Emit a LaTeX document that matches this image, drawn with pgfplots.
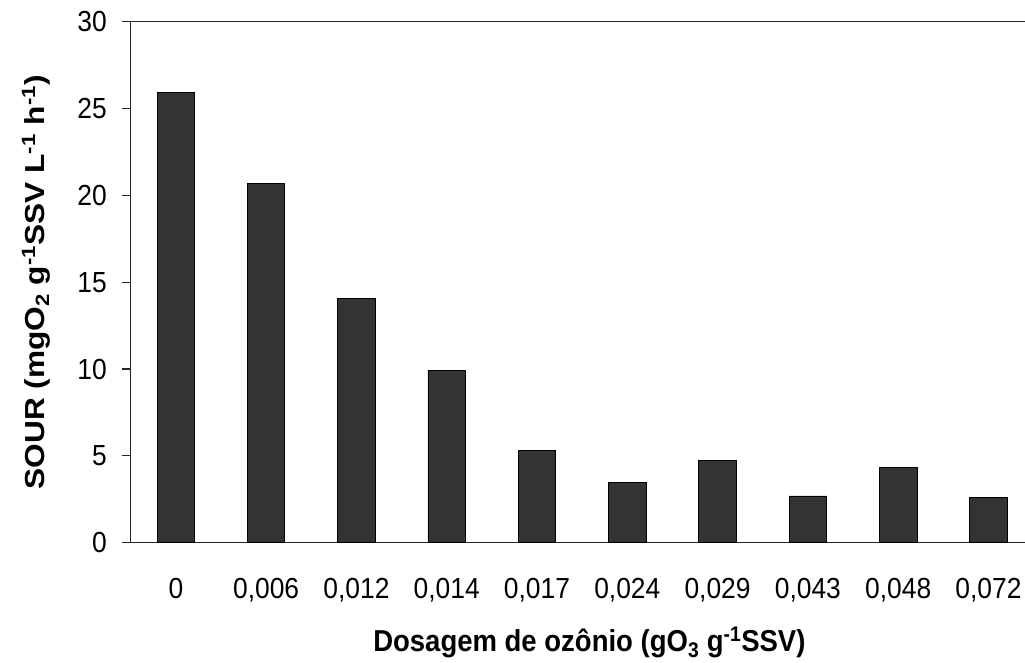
\documentclass[border=0pt]{standalone}
\usepackage{fontspec}
\setmainfont{Liberation Sans}
\usepackage{pgfplots}
\pgfplotsset{compat=1.18}
\definecolor{barfill}{HTML}{333333}
\newcommand{\vs}[1]{\scalebox{1}[1.1]{#1}}
\begin{document}
\fontsize{26}{30}\selectfont
\begin{tikzpicture}
\useasboundingbox (-130.7pt,-120.3pt) rectangle (894.3pt,542.7pt);
\begin{axis}[
  at={(0pt,0pt)}, anchor=south west,
  scale only axis,
  width=902.9pt, height=521pt,
  xmin=-0.5, xmax=9.5, ymin=0, ymax=30,
  axis lines=left,
  axis line style={-, line width=1.2pt, black!85},
  ytick={0,5,...,30},
  xtick={0,...,9},
  xticklabels={\vs{0},\vs{0,006},\vs{0,012},\vs{0,014},\vs{0,017},\vs{0,024},\vs{0,029},\vs{0,043},\vs{0,048},\vs{0,072}},
  yticklabel={\vs{\pgfmathprintnumber{\tick}}},
  minor xtick={-0.5,0.5,...,8.5},
  xtick style={draw=none},
  minor x tick style={line width=1.2pt, black!85},
  y tick style={line width=1.2pt, black!85},
  tick align=outside,
  major tick length=9pt, minor tick length=9pt,
  /pgf/number format/assume math mode=true,
  tick label style={font=\fontsize{26.4}{30}\selectfont},
  yticklabel style={xshift=-6pt},
  xticklabel style={yshift=-18pt},
  xlabel={\vs{\textbf{Dosagem de ozônio (gO\textsubscript{3} g\textsuperscript{-1}SSV)}}},
  ylabel={\scalebox{1.15}[1]{\textbf{SOUR (mgO\textsubscript{2} g\textsuperscript{-1}SSV L\textsuperscript{-1} h\textsuperscript{-1})}}},
  label style={font=\fontsize{27.5}{32}\selectfont},
  xlabel style={at={(axis description cs:0.508,-0.192)}, anchor=center},
  ylabel style={at={(axis description cs:-0.1049,0.5)}, anchor=center},
  clip=false,
]
\addplot[ybar, bar width=37.5pt, fill=barfill, draw=black, line width=0.8pt]
  coordinates {(0,25.9) (1,20.7) (2,14.07) (3,9.94) (4,5.30) (5,3.48) (6,4.72) (7,2.69) (8,4.34) (9,2.61)};
\draw[line width=1.2pt, black!85] ([xshift=-9pt]rel axis cs:0,1) -- (rel axis cs:1,1);
\end{axis}
\end{tikzpicture}
\end{document}
